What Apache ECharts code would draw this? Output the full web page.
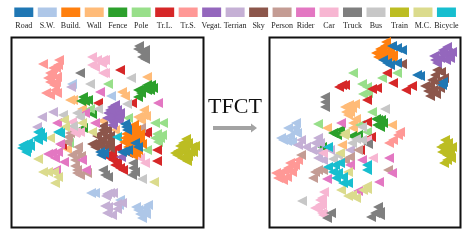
<!DOCTYPE html>
<html><head><meta charset="utf-8">
<style>html,body{margin:0;padding:0;background:#fff}#c{width:466px;height:248px}</style>
<script src="https://cdn.jsdelivr.net/npm/echarts@6/dist/echarts.min.js"></script>
</head><body><div id="c"></div>
<script>
const categories = ['Road','S.W.','Build.','Wall','Fence','Pole','Tr.L.','Tr.S.','Vegat.','Terrian','Sky','Person','Rider','Car','Truck','Bus','Train','M.C.','Bicycle'];
const colors = ['#1f77b4','#aec7e8','#ff7f0e','#ffbb78','#2ca02c','#98df8a','#d62728','#ff9896','#9467bd','#c5b0d5','#8c564b','#c49c94','#e377c2','#f7b6d2','#7f7f7f','#c7c7c7','#bcbd22','#dbdb8d','#17becf'];
const title = 'TFCT';

// Before TFCT (left panel)
const leftRoad = [[125,124],[127,130],[126,127],[122,152],[128,150],[125,151],[138,147],[100,152],[104,153],[101,155],[135,143]];
const leftSW = [[72,84],[111,96],[91,193],[95,193],[120,200],[119,205],[138,210],[145,208],[142,218],[140,214],[146,214],[136,207],[144,212],[148,205]];
const leftBuild = [[133,128],[133,133],[132,140],[135,135],[128,147],[133,150],[137,142],[125,138],[130,145],[138,136],[127,143],[135,146],[133,155],[140,140],[130,136],[136,130],[128,140],[131,150],[124,142],[140,134],[138,150],[130,132],[135,140],[134,125],[126,134],[142,144],[136,153]];
const leftWall = [[73,100],[70,100],[82,109],[102,121],[147,77],[122,92],[125,96],[144,110],[143,115],[138,117],[146,116],[141,120],[115,130],[67,149]];
const leftFence = [[83,97],[88,100],[81,101],[85,101],[92,114],[83,128],[147,85],[151,85],[150,90],[147,90],[138,90],[138,97],[141,93],[144,88],[153,88]];
const leftPole = [[108,84],[90,109],[128,118],[155,123],[163,123],[157,134],[155,138],[160,138],[158,142],[147,150],[69,143],[162,135]];
const leftTrL = [[98,103],[120,70],[132,103],[147,132],[145,133],[62,145],[108,157],[157,150],[157,161],[117,148],[112,157],[115,165],[120,168],[113,160],[117,162],[112,153],[123,170]];
const leftTrS = [[43,64],[58,65],[59,60],[56,68],[50,73],[48,78],[57,77],[54,85],[55,90],[50,95],[57,93],[52,75],[56,82],[50,82],[46,93],[53,68]];
const leftVegat = [[113,113],[112,107],[117,110],[110,118],[115,118],[108,113],[120,113],[113,122],[118,120],[121,157],[115,105],[107,118],[112,125],[119,117],[110,110]];
const leftTerrian = [[71,87],[53,112],[42,117],[37,127],[107,194],[105,206],[107,213],[110,193],[113,193],[117,204],[108,207],[112,215],[122,203],[106,196],[117,209]];
const leftSky = [[103,130],[107,130],[102,140],[95,147],[105,147],[102,133],[107,137],[98,142],[110,142],[100,146],[107,143],[128,153],[110,148],[97,136],[92,144],[103,126],[110,136]];
const leftPerson = [[141,128],[68,137],[67,142],[70,133],[78,147],[75,160],[72,155],[77,152],[81,156],[77,170],[77,173],[75,166],[80,175],[87,173]];
const leftRider = [[100,92],[85,113],[57,123],[95,123],[60,144],[52,153],[55,158],[58,152],[64,162],[82,160],[86,170],[56,170],[158,103],[48,154]];
const leftCar = [[92,57],[103,60],[92,65],[95,67],[103,73],[102,63],[105,60],[105,73],[97,60],[72,122],[76,132],[80,132],[75,133],[140,158],[145,163],[72,129]];
const leftTruck = [[80,73],[138,49],[145,50],[142,57],[145,55],[142,52],[139,46],[145,59],[103,170],[105,175],[108,177],[133,168],[132,175],[135,172],[133,163]];
const leftBus = [[90,84],[77,113],[80,117],[98,109],[63,115],[73,126],[131,78],[127,104],[142,179]];
const leftTrain = [[185,147],[177,155],[185,158],[192,147],[185,153],[188,143],[181,150],[190,152],[183,143],[178,151],[187,161],[175,153],[193,152],[186,139],[180,146],[188,156],[182,158],[195,146]];
const leftMC = [[64,120],[65,127],[82,123],[92,132],[50,138],[38,159],[48,172],[43,172],[58,177],[55,183],[54,172],[154,182]];
const leftBicycle = [[23,145],[28,143],[27,148],[38,140],[40,133],[37,138],[58,132],[38,132],[60,133],[117,137],[30,146],[22,148],[26,152],[42,137]];

// After TFCT (right panel)
const rightRoad = [[397,48],[402,50],[392,46],[387,63],[390,65],[397,63],[383,60],[420,76],[417,75],[442,85],[443,82]];
const rightSW = [[295,128],[297,133],[295,132],[283,140],[292,142],[290,136],[288,128],[287,141],[296,123],[281,138]];
const rightBuild = [[385,53],[380,55],[390,52],[392,58],[387,58],[382,50],[385,46],[378,57],[393,55],[380,49],[386,42],[376,53],[390,47],[383,56]];
const rightWall = [[345,107],[352,108],[348,115],[353,123],[353,128],[350,112],[327,128],[342,145],[392,125],[356,119],[346,112],[355,104],[349,105]];
const rightFence = [[333,133],[337,135],[322,147],[352,136],[378,120],[383,123],[377,125],[380,127],[340,130],[358,135],[376,119],[381,120]];
const rightPole = [[353,73],[362,84],[363,94],[318,124],[382,78],[397,73],[367,87],[368,93],[372,112],[367,132],[360,125]];
const rightTrL = [[342,85],[345,85],[339,87],[387,73],[393,83],[412,86],[406,90],[377,88],[372,89],[367,100],[367,122],[360,150],[371,137]];
const rightTrS = [[400,132],[398,135],[393,140],[389,143],[295,165],[288,168],[280,175],[278,178],[287,177],[292,172],[284,171],[290,163],[298,160],[276,173],[283,180],[293,166]];
const rightVegat = [[445,55],[440,58],[448,53],[435,60],[443,50],[450,58],[441,53],[446,60],[437,63],[452,52],[434,56],[447,47]];
const rightTerrian = [[298,145],[301,140],[318,138],[312,150],[318,158],[318,152],[306,147],[350,150],[330,150],[320,143],[315,143],[323,160]];
const rightSky = [[402,64],[435,75],[430,85],[433,90],[444,78],[428,91],[437,82],[432,80],[425,86],[437,70],[440,88],[436,94],[430,96],[441,72]];
const rightPerson = [[301,155],[315,172],[313,178],[323,170],[350,157],[345,160],[388,170],[358,150],[318,170]];
const rightRider = [[341,123],[327,179],[350,165],[362,160],[358,191],[389,158],[392,173],[379,182]];
const rightCar = [[323,153],[322,198],[320,205],[322,213],[318,208],[322,204],[324,192],[320,200],[315,208],[323,215],[373,158],[367,140]];
const rightTruck = [[325,102],[325,107],[325,97],[331,213],[327,218],[368,144],[375,213],[380,212],[371,217],[378,207],[380,215]];
const rightBus = [[362,127],[333,159],[352,143],[362,140],[302,201],[385,109],[356,139],[338,155]];
const rightTrain = [[445,150],[448,143],[442,152],[447,160],[444,145],[450,150],[449,156],[445,140],[452,147],[441,147],[444,163],[447,155],[451,158]];
const rightMC = [[345,133],[340,153],[348,172],[344,135],[341,190],[352,195],[363,190],[367,189],[356,198],[348,196],[367,186]];
const rightBicycle = [[328,147],[333,172],[338,173],[328,167],[343,183],[340,163],[335,165],[367,170],[367,165],[348,183],[336,178],[343,177]];

const leftData = [leftRoad,leftSW,leftBuild,leftWall,leftFence,leftPole,leftTrL,leftTrS,leftVegat,leftTerrian,leftSky,leftPerson,leftRider,leftCar,leftTruck,leftBus,leftTrain,leftMC,leftBicycle];
const rightData = [rightRoad,rightSW,rightBuild,rightWall,rightFence,rightPole,rightTrL,rightTrS,rightVegat,rightTerrian,rightSky,rightPerson,rightRider,rightCar,rightTruck,rightBus,rightTrain,rightMC,rightBicycle];
const drawOrder = [1,3,4,5,6,7,9,10,11,12,13,14,15,16,17,18,8,2,0];

const serif = '"Liberation Serif","Times New Roman",serif';
const hiddenAxis = (extra) => Object.assign({type:'value',show:false,splitLine:{show:false}},extra);
const mk = (idx,data,i) => ({type:'scatter',name:categories[i],xAxisIndex:idx,yAxisIndex:idx,data:data[i],
  symbol:'triangle',symbolRotate:90,symbolSize:10,itemStyle:{color:colors[i],opacity:1},silent:true,animation:false});

const legendGraphics = [];
categories.forEach((c,i)=>{
  const x = 14.3 + i*23.48;
  legendGraphics.push({type:'rect',shape:{x:x,y:7.5,width:19,height:9.5},style:{fill:colors[i]}});
  legendGraphics.push({type:'text',style:{x:x+9.5,y:26,text:c,fill:'#222',font:'8px '+serif,textAlign:'center',textVerticalAlign:'middle'}});
});
legendGraphics.push({type:'text',style:{x:235,y:107,text:title,fill:'#111',font:'22px '+serif,textAlign:'center',textVerticalAlign:'middle'}});
legendGraphics.push({type:'polygon',shape:{points:[[213,126],[251,126],[251,123.5],[257,128],[251,132.5],[251,130],[213,130]]},style:{fill:'#a3a3a3'}});

const chart = echarts.init(document.getElementById('c'),null,{renderer:'canvas'});
chart.setOption({
  animation:false,backgroundColor:'#fff',
  grid:[
    {left:11.5,top:37.5,width:192,height:190,show:true,borderColor:'#111',borderWidth:2,backgroundColor:'#fff'},
    {left:269.5,top:37.5,width:191,height:190,show:true,borderColor:'#111',borderWidth:2,backgroundColor:'#fff'}
  ],
  xAxis:[hiddenAxis({gridIndex:0,min:11.5,max:203.5}),hiddenAxis({gridIndex:1,min:269.5,max:460.5})],
  yAxis:[hiddenAxis({gridIndex:0,min:37.5,max:227.5,inverse:true}),hiddenAxis({gridIndex:1,min:37.5,max:227.5,inverse:true})],
  series:[...drawOrder.map(i=>mk(0,leftData,i)),...drawOrder.map(i=>mk(1,rightData,i))],
  graphic:legendGraphics
});
</script></body></html>
